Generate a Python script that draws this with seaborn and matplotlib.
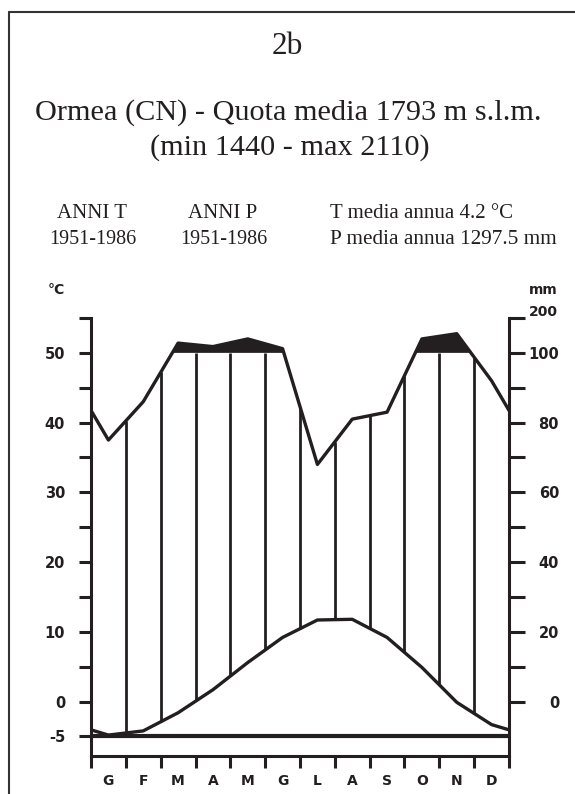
import numpy as np
import pandas as pd
import matplotlib
matplotlib.use("Agg")
import matplotlib.pyplot as plt
import seaborn as sns

# ---------------- data ----------------
months = ["G", "F", "M", "A", "M", "G", "L", "A", "S", "O", "N", "D"]
temp_c = [-4.8, -4.2, -1.6, 1.7, 5.6, 9.2, 11.7, 11.8, 9.2, 4.9, -0.1, -3.3]
prec_mm = [75, 86, 128, 118, 140, 112, 68, 81, 83, 140, 155, 92]
left_labels = [-5, 0, 10, 20, 30, 40, 50]
right_labels_mm = [0, 20, 40, 60, 80, 100]

INK = "#231f20"
W, H = 575, 794

sns.set_style("white")
plt.rcParams["font.family"] = ["DejaVu Sans"]
plt.rcParams["axes.unicode_minus"] = False


def p_scale(p):
    """Walter-Lieth precipitation scale expressed in degC units."""
    p = np.asarray(p, float)
    return np.where(p <= 100, p / 2.0, 50 + (p - 100) / 20.0)


def fx(px):
    return px / W


def fy(py):
    return 1 - py / H


fig = plt.figure(figsize=(W / 100, H / 100), dpi=100)
ax = fig.add_axes([fx(91), fy(756), (509 - 91) / W, (756 - 318) / H])

x_mid = np.arange(12) + 0.5
t_arr = np.asarray(temp_c, float)
p_arr = p_scale(prec_mm)
t_edge = (t_arr[-1] + t_arr[0]) / 2
p_edge = (p_arr[-1] + p_arr[0]) / 2
x_ext = np.r_[0.0, x_mid, 12.0]
t_ext = np.r_[t_edge, t_arr, t_edge]
p_ext = np.r_[p_edge, p_arr, p_edge]
df = pd.DataFrame({"x": x_ext, "T": t_ext, "P": p_ext})

# humid period > 100 mm: black fill
ax.fill_between(x_ext, 50, p_ext, where=p_ext > 50, interpolate=True,
                color=INK, lw=0, zorder=2)
# vertical hatching for humid period
xb = np.arange(1, 12)
lo = np.interp(xb, x_ext, t_ext)
hi = np.minimum(np.interp(xb, x_ext, p_ext), 50)
ax.vlines(xb, lo, hi, color=INK, lw=2.0, zorder=2)

sns.lineplot(data=df, x="x", y="T", color=INK, lw=2.4, ax=ax, zorder=3)
sns.lineplot(data=df, x="x", y="P", color=INK, lw=2.4, ax=ax, zorder=3)

ax.axhline(-5, color=INK, lw=3.0, zorder=3)

ax.set_xlim(0, 12)
ax.set_ylim(-7.8, 55)
ax.set_xlabel("")
ax.set_ylabel("")
for s in ["left", "bottom", "right"]:
    ax.spines[s].set_visible(True)
    ax.spines[s].set_color(INK)
    ax.spines[s].set_linewidth(2.2)
ax.spines["top"].set_visible(False)

# x axis
ax.set_xticks(np.arange(0, 13))
ax.set_xticklabels([])
ax.set_xticks(x_mid, minor=True)
ax.set_xticklabels(months, minor=True, fontsize=10, fontweight="bold", color=INK)
ax.tick_params(axis="x", which="major", direction="out", length=8.6, width=2.2,
               color=INK, bottom=True)
ax.tick_params(axis="x", which="minor", length=0, pad=13, bottom=True)

# left axis
yt = np.arange(-5, 56, 5)
ax.set_yticks(yt)
ax.set_yticklabels([str(v) if v in left_labels else "" for v in yt],
                   fontsize=10.5, fontweight="bold", color=INK)
ax.tick_params(axis="y", which="major", direction="out", length=8.6, width=2.2,
               color=INK, pad=10, left=True)

# right axis (mm)
ax2 = ax.twinx()
ax2.set_ylim(ax.get_ylim())
for s in ax2.spines.values():
    s.set_visible(False)
yt2 = np.r_[np.arange(0, 51, 5), 55]
ax2.set_yticks(yt2)
ax2.set_yticklabels([str(int(v * 2)) if (v <= 50 and int(v * 2) in right_labels_mm) else ""
                     for v in yt2], fontsize=10.5, fontweight="bold", color=INK, ha="right")
ax2.tick_params(axis="y", direction="out", length=11.5, width=2.2, color=INK,
                pad=24.5, right=True)
ax2.grid(False)

fig.text(fx(56), fy(290), "°C", ha="center", va="center", fontsize=10,
         fontweight="bold", color=INK)
fig.text(fx(558), fy(290), "mm", ha="right", va="center", fontsize=10,
         fontweight="bold", color=INK)
fig.text(fx(558), fy(312), "200", ha="right", va="center", fontsize=10,
         fontweight="bold", color=INK)

# titles
serif = "Liberation Serif"
fig.text(fx(287), fy(47), "2b", ha="center", va="center", family=serif,
         fontsize=22.5, color=INK)
fig.text(fx(288), fy(113), "Ormea (CN) - Quota media 1793 m s.l.m.", ha="center",
         va="center", family=serif, fontsize=21.8, color=INK)
fig.text(fx(290), fy(148), "(min 1440 - max 2110)", ha="center", va="center",
         family=serif, fontsize=21.8, color=INK)
fig.text(fx(92), fy(213), "ANNI T", ha="center", va="center", family=serif,
         fontsize=15, color=INK)
fig.text(fx(93), fy(239), "1951-1986", ha="center", va="center", family=serif,
         fontsize=14.5, color=INK)
fig.text(fx(223), fy(213), "ANNI P", ha="center", va="center", family=serif,
         fontsize=15, color=INK)
fig.text(fx(224), fy(239), "1951-1986", ha="center", va="center", family=serif,
         fontsize=14.5, color=INK)
fig.text(fx(330), fy(213), "T media annua 4.2 °C", ha="left", va="center",
         family=serif, fontsize=15, color=INK)
fig.text(fx(330), fy(239), "P media annua 1297.5 mm", ha="left", va="center",
         family=serif, fontsize=15.3, color=INK)

# outer frame (left and top edges visible)
fig.add_artist(plt.Line2D([fx(9), fx(9)], [fy(12), -0.01], color="#333333",
                          lw=1.5, transform=fig.transFigure))
fig.add_artist(plt.Line2D([fx(9), 1.01], [fy(12), fy(12)], color="#333333",
                          lw=1.5, transform=fig.transFigure))

fig.savefig("out.png", dpi=100)
